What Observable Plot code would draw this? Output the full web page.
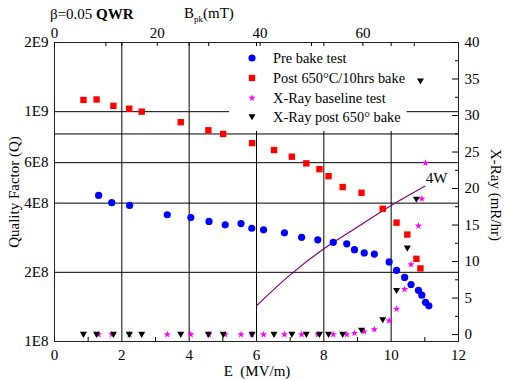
<!DOCTYPE html>
<html><head><meta charset="utf-8">
<script src="https://cdn.jsdelivr.net/npm/d3@7"></script>
<script src="https://cdn.jsdelivr.net/npm/@observablehq/plot@0.6"></script>
<style>html,body{margin:0;padding:0;background:#fff;} svg text{font-family:"Liberation Serif","Times New Roman",Times,serif;}</style>
</head><body><div id="chart"></div>
<script>
// ---- data ----
const preE = [1.31,1.70,2.23,3.35,4.05,4.59,5.07,5.54,5.86,6.21,6.83,7.34,7.82,8.28,8.68,8.91,9.20,9.50,9.94,10.16,10.40,10.59,10.81,10.91,11.02,11.12];
const preQ = [4.32e8,4.02e8,3.91e8,3.56e8,3.46e8,3.33e8,3.22e8,3.26e8,3.11e8,3.06e8,2.97e8,2.84e8,2.77e8,2.70e8,2.66e8,2.51e8,2.43e8,2.40e8,2.22e8,2.04e8,1.90e8,1.77e8,1.67e8,1.59e8,1.48e8,1.43e8];
const postE = [0.86,1.25,1.75,2.22,2.59,3.75,4.57,5.01,5.87,6.52,7.05,7.48,7.87,8.14,8.56,9.12,9.75,10.16,10.48,10.75,10.87];
const postQ = [1.125e9,1.13e9,1.06e9,1.03e9,1.0e9,9.0e8,8.3e8,8.0e8,7.3e8,6.81e8,6.37e8,5.96e8,5.62e8,5.24e8,4.70e8,4.44e8,3.78e8,3.29e8,2.92e8,2.29e8,2.08e8];
const xrayBaseE = [1.31,1.70,2.23,3.35,4.05,4.59,5.07,5.54,5.86,6.21,6.83,7.34,7.82,8.28,8.68,8.91,9.20,9.50,9.94,10.16,10.40,10.59,10.81,10.91,11.02];
const xrayBase  = [0,0,0,0,0,0,0,0,0,0,0,0,0,0,0,0.2,0.4,0.7,1.9,3.5,6.2,9.6,14.9,18.6,23.5];
const xrayPostE = [0.86,1.25,1.75,2.22,2.59,3.75,4.57,5.01,5.87,6.52,7.05,7.48,7.87,8.14,8.56,9.12,9.75,10.16,10.48,10.75,10.87];
const xrayPost  = [0,0,0,0,0,0,0,0,0,0,0,0,0,0,0,0.55,2.0,6.0,11.8,18.5,34.7];
const fourWE = [6,7,8,9,10,11.0];
const fourWQ = [1.43e8,1.95e8,2.53e8,3.15e8,3.91e8,4.74e8];

const eTicks = [0,2,4,6,8,10,12];
const eMinor = [1,3,5,7,9,11];
const eGrid = [2,4,6,8,10];
const qTicks = [1e8,2e8,4e8,6e8,8e8,1e9,2e9];
const qTickLabels = ["1E8","2E8","4E8","6E8","8E8","1E9","2E9"];
const qGrid = [2e8,4e8,6e8,8e8,1e9];
const xrayTicks = [0,5,10,15,20,25,30,35,40];
const xrayTickLabels = ["0","5","10","15","20","25","30","35","40"];
const xrayMinor = [2.5,7.5,12.5,17.5,22.5,27.5,32.5,37.5];
const bTicks = [0,20,40,60];
const bTickLabels = ["0","20","40","60"];
const bMinor = [10,30,50,70];
const legendLabels = ["Pre bake test","Post 650\u00B0C/10hrs bake","X-Ray baseline test","X-Ray post 650\u00B0 bake"];

// ---- layout ----
const W = 510, H = 380, ML = 54, MR = 52, MT = 42, MB = 39;
const FW = W - ML - MR, FH = H - MT - MB;
const xrayMin = -0.95, xrayMax = 40;
const toQ = v => Math.pow(10, 8 + (v - xrayMin) / (xrayMax - xrayMin) * Math.log10(20));
const bToE = b => b / 6.55;

const triDown = {draw(ctx, size) { const s = Math.sqrt(size / Math.PI); ctx.moveTo(-s, -0.8*s); ctx.lineTo(s, -0.8*s); ctx.lineTo(0, 0.95*s); ctx.closePath(); }};

const pre = preE.map((e,i)=>({e, q: preQ[i]}));
const post = postE.map((e,i)=>({e, q: postQ[i]}));
const xb = xrayBaseE.map((e,i)=>({e, q: toQ(xrayBase[i])}));
const xp = xrayPostE.map((e,i)=>({e, q: toQ(xrayPost[i])}));
const fw = fourWE.map((e,i)=>({e, q: fourWQ[i]}));
const qLab = new Map(qTicks.map((d,i)=>[d, qTickLabels[i]]));
const xrT = xrayTicks.map(toQ);
const xrLab = new Map(xrT.map((d,i)=>[d, xrayTickLabels[i]]));
const bT = bTicks.map(bToE);
const bLab = new Map(bT.map((d,i)=>[d, bTickLabels[i]]));

const font = "'Liberation Serif', 'Times New Roman', Times, serif";

function decorations() {
  const g = d3.create("svg:g").attr("fill", "black");
  // title
  const t = g.append("text").attr("x", 50).attr("y", 19).attr("font-size", 15).attr("text-anchor", "start");
  t.append("tspan").text("\u03B2=0.05 ");
  t.append("tspan").attr("font-weight", "bold").text("QWR");
  const b = g.append("text").attr("x", 184).attr("y", 18).attr("font-size", 15).attr("text-anchor", "start");
  b.append("tspan").text("B");
  b.append("tspan").attr("font-size", 9).attr("dy", 4).text("pk");
  b.append("tspan").attr("dy", -4).text("(mT)");
  // axis titles
  g.append("text").attr("transform", "translate(14,192) rotate(-90)").attr("text-anchor", "middle")
    .attr("dy", "0.35em").attr("font-size", 15).text("Quality Factor (Q)");
  g.append("text").attr("transform", "translate(496,195) rotate(90)").attr("text-anchor", "middle")
    .attr("dy", "0.35em").attr("font-size", 15).text("X-Ray (mR/hr)");
  g.append("text").attr("x", 257).attr("y", 376).attr("text-anchor", "middle").attr("font-size", 15)
    .text("E\u00A0\u00A0(MV/m)");
  // legend
  const rowsY = [58, 78, 98, 117];
  const syms = [
    {type: d3.symbolCircle, size: Math.PI*3.6*3.6, fill: "#0000ff"},
    {type: d3.symbolSquare, size: Math.PI*3.6*3.6, fill: "#ff0000"},
    {type: d3.symbolStar, size: Math.PI*2.3*2.3, fill: "#ff00ff"},
    {type: triDown, size: Math.PI*3.5*3.5, fill: "#000000"}
  ];
  legendLabels.forEach((lab, i) => {
    g.append("path").attr("d", d3.symbol(syms[i].type, syms[i].size)())
      .attr("transform", `translate(252,${rowsY[i]})`).attr("fill", syms[i].fill);
    g.append("text").attr("x", 273).attr("y", rowsY[i]).attr("dy", "0.35em")
      .attr("text-anchor", "start").attr("font-size", 14.4).text(lab);
  });
  return g.node();
}

const chart = Plot.plot({
  width: W, height: H,
  marginLeft: ML, marginRight: MR, marginTop: MT, marginBottom: MB,
  style: {fontFamily: font, fontSize: "15px", background: "white", color: "black"},
  x: {domain: [0, 12]},
  y: {type: "log", domain: [1e8, 2e9]},
  marks: [
    Plot.ruleY(qGrid, {stroke: "#000", strokeWidth: 1}),
    Plot.ruleX(eGrid, {stroke: "#000", strokeWidth: 1}),
    Plot.rect([0], {x1: 5.2, x2: 10.47, y1: 8.2e8, y2: 2e9, fill: "white"}),
    Plot.frame({stroke: "#222", strokeWidth: 1}),
    Plot.tickX(eMinor, {x: d => d, insetTop: FH - 4, stroke: "#000"}),
    Plot.tickX(eGrid, {x: d => d, insetBottom: FH - 4, stroke: "#000"}),
    Plot.tickX(bT, {x: d => d, insetBottom: FH - 4, stroke: "#000"}),
    Plot.tickX(bMinor.map(bToE), {x: d => d, insetBottom: FH - 4, stroke: "#000"}),
    Plot.tickY(xrT, {y: d => d, insetLeft: FW - 6, stroke: "#000"}),
    Plot.tickY(xrayMinor.map(toQ), {y: d => d, insetLeft: FW - 3, stroke: "#000"}),
    Plot.line(fw, {x: "e", y: "q", curve: "catmull-rom", stroke: "#800080", strokeWidth: 1.2}),
    Plot.text([fw[fw.length - 1]], {x: "e", y: "q", text: () => "4W", textAnchor: "start", dx: 1, dy: -8, fontSize: 15, fill: "black"}),
    Plot.dot(post, {x: "e", y: "q", symbol: "square", r: 3.6, fill: "#ff0000", stroke: "none"}),
    Plot.dot(pre, {x: "e", y: "q", symbol: "circle", r: 3.6, fill: "#0000ff", stroke: "none"}),
    Plot.dot(xb, {x: "e", y: "q", symbol: "star", r: 2.3, fill: "#ff00ff", stroke: "none"}),
    Plot.dot(xp, {x: "e", y: "q", symbol: triDown, r: 3.5, fill: "#000000", stroke: "none"}),
    Plot.axisX(eTicks, {anchor: "bottom", tickSize: 0, tickPadding: 8, tickFormat: d => String(d), label: null, fontSize: 15}),
    Plot.axisX(bT, {anchor: "top", tickSize: 0, tickPadding: 5, tickFormat: d => bLab.get(d), label: null, fontSize: 15}),
    Plot.axisY(qTicks, {anchor: "left", tickSize: 0, tickPadding: 6, tickFormat: d => qLab.get(d), label: null, fontSize: 15}),
    Plot.axisY(xrT, {anchor: "right", tickSize: 0, tickPadding: 6, tickFormat: d => xrLab.get(d), label: null, fontSize: 15}),
    decorations
  ]
});
document.getElementById("chart").appendChild(chart);
</script>
</body></html>
